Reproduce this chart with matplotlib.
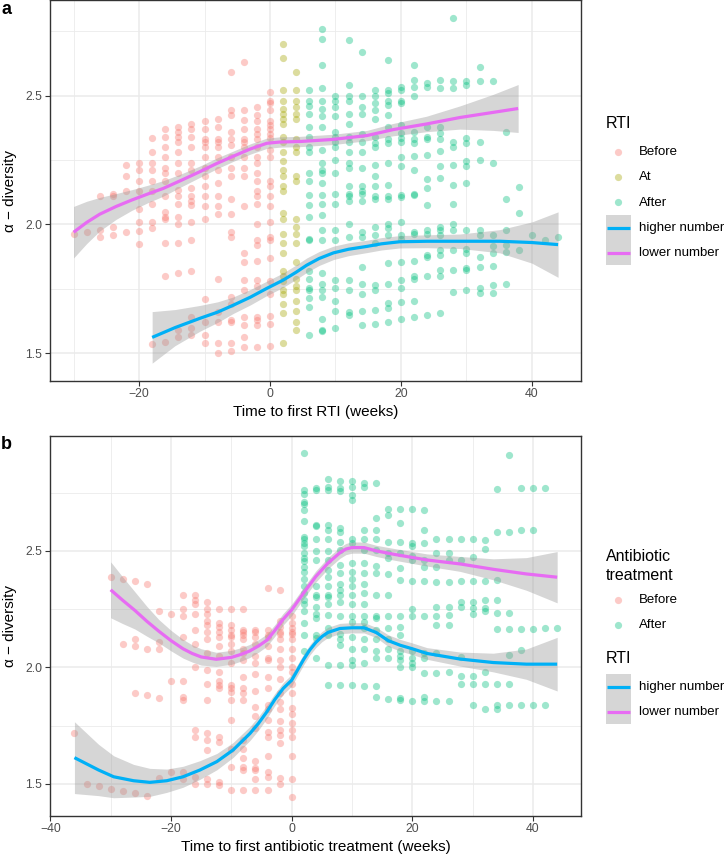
import numpy as np
import matplotlib
matplotlib.use("Agg")
import matplotlib.pyplot as plt
from matplotlib.patches import Rectangle

plt.rcParams["font.family"] = ["Liberation Sans", "DejaVu Sans"]

BEFORE = "#F8766D"
AT = "#A3A500"
AFTER = "#00BF7D"
HIGH = "#00B0F6"
LOW = "#E76BF3"

# ---- panel a: alpha-diversity by week relative to first RTI ----
a_before = {
    -30: [1.965],
    -28: [1.97],
    -26: [2.11, 1.98, 1.95],
    -24: [2.12, 2.11, 1.99, 1.96],
    -22: [2.23, 2.19, 2.13, 1.97],
    -20: [2.24, 2.21, 2.17, 2.13, 2.06, 2.01, 1.975, 1.925],
    -18: [2.335, 2.28, 2.24, 2.21, 2.17, 2.13, 2.08, 2.01, 1.985, 1.536],
    -16: [2.37, 2.34, 2.30, 2.26, 2.22, 2.20, 2.17, 2.11, 2.05, 2.03, 2.02, 1.93, 1.80, 1.545],
    -14: [2.38, 2.36, 2.34, 2.32, 2.28, 2.24, 2.20, 2.135, 2.11, 2.08, 2.03, 2.0, 1.93, 1.81, 1.59, 1.565],
    -12: [2.39, 2.37, 2.34, 2.30, 2.24, 2.21, 2.14, 2.11, 2.09, 2.075, 2.01, 1.94, 1.82, 1.64, 1.60, 1.57],
    -10: [2.40, 2.37, 2.33, 2.32, 2.30, 2.26, 2.22, 2.19, 2.15, 2.11, 2.07, 2.02, 1.71, 1.62, 1.57, 1.54],
    -8: [2.41, 2.38, 2.33, 2.32, 2.30, 2.26, 2.21, 2.16, 2.11, 2.07, 2.04, 1.79, 1.66, 1.62, 1.54, 1.50],
    -6: [2.59, 2.445, 2.425, 2.36, 2.33, 2.31, 2.26, 2.22, 2.19, 2.10, 2.04, 1.97, 1.95, 1.72, 1.69,
         1.63, 1.62, 1.54, 1.51],
    -4: [2.63, 2.445, 2.405, 2.37, 2.33, 2.32, 2.30, 2.26, 2.22, 2.19, 2.07, 1.89, 1.855, 1.785, 1.745,
         1.64, 1.61, 1.565, 1.525],
    -2: [2.455, 2.425, 2.40, 2.37, 2.35, 2.33, 2.30, 2.26, 2.24, 2.20, 2.17, 2.13, 2.11, 2.08, 2.0, 1.94,
         1.92, 1.86, 1.785, 1.76, 1.64, 1.63, 1.61, 1.525],
    0: [2.515, 2.48, 2.47, 2.445, 2.40, 2.385, 2.37, 2.35, 2.335, 2.29, 2.26, 2.17, 2.15, 2.11, 2.07, 2.01,
        1.95, 1.94, 1.87, 1.78, 1.73, 1.645, 1.615, 1.53],
}
a_at = {
    2: [2.70, 2.645, 2.52, 2.48, 2.45, 2.43, 2.41, 2.39, 2.34, 2.32, 2.28, 2.245, 2.21, 2.19, 2.15, 2.13,
        2.045, 2.02, 1.965, 1.93, 1.89, 1.82, 1.80, 1.78, 1.745, 1.73, 1.69, 1.655, 1.54],
    4: [2.59, 2.52, 2.48, 2.455, 2.43, 2.41, 2.33, 2.30, 2.28, 2.19, 2.17, 2.02, 1.99, 1.965, 1.93, 1.855,
        1.79, 1.76, 1.745, 1.705, 1.665, 1.62, 1.59],
}
a_after = {
    6: [2.52, 2.48, 2.46, 2.43, 2.38, 2.34, 2.30, 2.28, 2.20, 2.17, 2.115, 2.075, 2.03, 1.945, 1.94, 1.82,
        1.79, 1.755, 1.745, 1.715, 1.68, 1.57],
    8: [2.76, 2.72, 2.62, 2.53, 2.48, 2.45, 2.42, 2.38, 2.29, 2.24, 2.21, 2.20, 2.16, 2.115, 2.08, 2.035,
        1.98, 1.94, 1.81, 1.77, 1.745, 1.72, 1.635, 1.59, 1.585],
    10: [2.50, 2.48, 2.455, 2.42, 2.36, 2.34, 2.32, 2.30, 2.25, 2.20, 2.12, 2.08, 1.98, 1.94, 1.785, 1.755,
         1.705, 1.665, 1.60],
    12: [2.715, 2.54, 2.50, 2.48, 2.43, 2.39, 2.34, 2.32, 2.28, 2.24, 2.22, 2.15, 2.12, 2.11, 2.09, 2.0,
         1.95, 1.785, 1.745, 1.66, 1.65],
    14: [2.67, 2.50, 2.455, 2.43, 2.35, 2.32, 2.28, 2.22, 2.15, 2.13, 2.12, 2.09, 1.97, 1.95, 1.835, 1.77,
         1.73, 1.665, 1.61],
    16: [2.52, 2.50, 2.47, 2.445, 2.41, 2.34, 2.315, 2.30, 2.23, 2.19, 2.15, 2.11, 2.10, 1.99, 1.96, 1.93,
         1.765, 1.745, 1.67, 1.615],
    18: [2.64, 2.52, 2.51, 2.48, 2.465, 2.425, 2.38, 2.33, 2.315, 2.24, 2.155, 2.11, 2.10, 2.0, 1.985,
         1.96, 1.85, 1.77, 1.695, 1.675, 1.62],
    20: [2.535, 2.52, 2.48, 2.47, 2.385, 2.355, 2.335, 2.32, 2.26, 2.225, 2.115, 2.105, 2.01, 1.96, 1.945,
         1.855, 1.785, 1.755, 1.70, 1.635],
    22: [2.62, 2.56, 2.535, 2.50, 2.36, 2.33, 2.315, 2.265, 2.21, 2.12, 2.115, 1.97, 1.965, 1.86, 1.80,
         1.79, 1.705, 1.64],
    24: [2.55, 2.535, 2.38, 2.34, 2.33, 2.27, 2.175, 2.14, 2.075, 1.98, 1.965, 1.88, 1.875, 1.80, 1.65],
    26: [2.56, 2.53, 2.38, 2.355, 2.33, 2.285, 2.225, 2.18, 1.99, 1.98, 1.96, 1.90, 1.88, 1.825, 1.80, 1.655],
    28: [2.80, 2.555, 2.53, 2.32, 2.30, 2.23, 2.155, 2.08, 2.0, 1.98, 1.90, 1.825, 1.74],
    30: [2.555, 2.54, 2.335, 2.315, 2.245, 2.225, 2.16, 1.98, 1.905, 1.89, 1.83, 1.825, 1.745],
    32: [2.61, 2.555, 2.32, 2.25, 1.98, 1.96, 1.875, 1.835, 1.755, 1.735],
    34: [2.555, 2.24, 1.96, 1.915, 1.89, 1.84, 1.765, 1.735],
    36: [2.36, 2.10, 1.98, 1.92, 1.895, 1.77],
    38: [2.145, 2.045, 1.90],
    40: [1.96],
    42: [1.94],
    44: [1.95],
}

# loess fits (week, fit, half-width of band)
a_low_x = [-30, -28, -26, -23.5, -21.1, -18.7, -16.3, -13.5, -10.7, -8.2, -5.6, -3, -0.5, 1.5, 4.6,
           9.6, 14.8, 18.8, 23.9, 29, 34.1, 37.9]
a_low_y = [1.97, 2.008, 2.04, 2.07, 2.095, 2.118, 2.14, 2.172, 2.205, 2.236, 2.265, 2.293, 2.315, 2.32,
           2.322, 2.33, 2.345, 2.368, 2.39, 2.415, 2.435, 2.45]
a_low_se = [0.10, 0.082, 0.065, 0.05, 0.04, 0.034, 0.03, 0.025, 0.022, 0.021, 0.02, 0.02, 0.02, 0.02,
            0.02, 0.02, 0.02, 0.024, 0.03, 0.045, 0.07, 0.093]

a_high_x = [-18, -14.5, -10.7, -8, -5.6, -3, -0.5, 2.0, 4, 5.6, 7.5, 9.7, 12, 14.8, 17, 19.8, 24, 29,
            35.1, 40, 44]
a_high_y = [1.562, 1.6, 1.636, 1.66, 1.687, 1.718, 1.752, 1.784, 1.815, 1.842, 1.868, 1.89, 1.904,
            1.915, 1.925, 1.933, 1.935, 1.935, 1.935, 1.93, 1.922]
a_high_se = [0.10, 0.07, 0.05, 0.04, 0.032, 0.03, 0.028, 0.028, 0.028, 0.028, 0.027, 0.026, 0.025,
             0.024, 0.024, 0.024, 0.025, 0.028, 0.045, 0.08, 0.127]

# ---- panel b: alpha-diversity by week relative to first antibiotic treatment ----
b_before = {
    -36: [1.72],
    -34: [1.50],
    -32: [1.49],
    -30: [2.39, 1.48],
    -28: [2.38, 2.10, 1.47],
    -26: [2.37, 2.12, 2.09, 1.89, 1.46],
    -24: [2.36, 2.08, 1.88, 1.45],
    -22: [2.24, 2.11, 2.08, 1.87, 1.525],
    -20: [2.23, 1.94, 1.55],
    -18: [2.31, 2.25, 2.22, 2.13, 1.94, 1.875, 1.86, 1.55, 1.52],
    -16: [2.31, 2.29, 2.27, 2.23, 2.16, 2.10, 2.0, 1.73, 1.70, 1.53, 1.50],
    -14: [2.28, 2.25, 2.23, 2.20, 2.18, 2.15, 2.12, 2.06, 1.99, 1.93, 1.86, 1.72, 1.69, 1.645, 1.52, 1.50],
    -12: [2.25, 2.19, 2.175, 2.15, 2.13, 2.09, 2.05, 1.98, 1.94, 1.925, 1.91, 1.70, 1.68, 1.51, 1.495],
    -10: [2.25, 2.18, 2.16, 2.14, 2.13, 2.10, 2.07, 2.02, 1.925, 1.91, 1.895, 1.86, 1.775, 1.65, 1.575,
          1.475],
    -8: [2.25, 2.16, 2.15, 2.14, 2.12, 2.08, 2.06, 2.03, 1.96, 1.91, 1.89, 1.86, 1.69, 1.65, 1.61, 1.575,
         1.56, 1.475],
    -6: [2.16, 2.15, 2.13, 2.10, 2.05, 2.02, 1.97, 1.90, 1.83, 1.79, 1.74, 1.60, 1.57, 1.56, 1.52, 1.475],
    -4: [2.34, 2.16, 2.14, 2.13, 2.09, 2.04, 2.03, 1.96, 1.91, 1.84, 1.82, 1.775, 1.725, 1.70, 1.62, 1.55,
         1.53, 1.475],
    -2: [2.33, 2.20, 2.175, 2.15, 2.145, 2.12, 2.08, 2.03, 2.0, 1.95, 1.89, 1.85, 1.82, 1.77, 1.73, 1.71,
         1.675, 1.525, 1.50],
    0: [2.22, 2.19, 2.17, 2.15, 2.145, 2.12, 2.08, 2.04, 2.0, 1.98, 1.93, 1.89, 1.825, 1.80, 1.76, 1.73,
        1.70, 1.62, 1.52, 1.445],
}
b_after = {
    2: [2.92, 2.76, 2.745, 2.71, 2.70, 2.675, 2.63, 2.56, 2.55, 2.535, 2.52, 2.49, 2.47, 2.455, 2.43, 2.41,
        2.38, 2.35, 2.32, 2.29, 2.27, 2.24, 2.19, 2.14, 2.07],
    4: [2.77, 2.76, 2.61, 2.605, 2.55, 2.50, 2.46, 2.35, 2.31, 2.30, 2.26, 2.23, 2.21, 2.14, 2.125, 2.04],
    6: [2.81, 2.775, 2.76, 2.61, 2.59, 2.55, 2.50, 2.46, 2.42, 2.39, 2.35, 2.31, 2.30, 2.27, 2.225, 2.17,
        2.14, 2.01, 1.925],
    8: [2.80, 2.77, 2.755, 2.60, 2.58, 2.54, 2.505, 2.44, 2.405, 2.36, 2.33, 2.31, 2.28, 2.22, 2.145, 2.12,
        2.095, 2.01, 1.925],
    10: [2.80, 2.775, 2.74, 2.72, 2.55, 2.535, 2.45, 2.41, 2.38, 2.35, 2.31, 2.27, 2.22, 2.195, 2.13, 2.08,
         2.03, 2.01, 1.925],
    12: [2.79, 2.775, 2.59, 2.55, 2.505, 2.45, 2.405, 2.36, 2.32, 2.27, 2.22, 2.195, 2.17, 2.12, 2.08,
         2.02, 1.92],
    14: [2.79, 2.64, 2.59, 2.55, 2.505, 2.435, 2.405, 2.31, 2.22, 2.21, 2.16, 2.12, 2.07, 2.04, 1.92, 1.875],
    16: [2.68, 2.655, 2.54, 2.49, 2.47, 2.40, 2.31, 2.22, 2.17, 2.12, 2.08, 2.04, 1.865],
    18: [2.68, 2.62, 2.54, 2.49, 2.425, 2.375, 2.22, 2.175, 2.14, 2.07, 2.05, 2.03, 2.0, 1.87, 1.86],
    20: [2.68, 2.535, 2.52, 2.48, 2.46, 2.37, 2.25, 2.22, 2.07, 2.04, 2.02, 2.0, 1.855],
    22: [2.675, 2.59, 2.535, 2.46, 2.43, 2.37, 2.22, 2.06, 2.04, 1.975, 1.875, 1.855],
    24: [2.55, 2.49, 2.43, 2.365, 2.26, 2.22, 2.18, 2.06, 1.975, 1.855],
    26: [2.55, 2.49, 2.46, 2.365, 2.26, 2.225, 2.18, 1.98, 1.855],
    28: [2.55, 2.46, 2.37, 2.28, 2.26, 2.045, 1.965, 1.93],
    30: [2.55, 2.475, 2.37, 2.28, 2.255, 2.23, 1.965, 1.93, 1.84],
    32: [2.545, 2.51, 2.37, 2.29, 2.255, 2.24, 1.98, 1.93, 1.82],
    34: [2.765, 2.58, 2.375, 2.29, 2.235, 2.165, 1.93, 1.84, 1.82],
    36: [2.91, 2.58, 2.235, 2.165, 2.055, 1.93, 1.84],
    38: [2.77, 2.59, 2.165, 2.075, 1.84],
    40: [2.77, 2.59, 2.165, 1.84],
    42: [2.77, 2.17, 1.84],
    44: [2.17],
}

b_low_x = [-30, -28, -26, -24, -22, -20, -18, -16.5, -15, -12.5, -10, -8.5, -7, -5.5, -4.1, -2.8,
           -1.5, 0, 2, 4, 6, 8, 9, 10, 12, 14, 17, 22.4, 27.9, 33.4, 38.9, 44]
b_low_y = [2.333, 2.288, 2.245, 2.198, 2.155, 2.115, 2.08, 2.06, 2.045, 2.035, 2.043, 2.055, 2.07, 2.092,
           2.117, 2.158, 2.204, 2.247, 2.32, 2.39, 2.447, 2.492, 2.508, 2.514, 2.514, 2.50, 2.485,
           2.461, 2.444, 2.421, 2.401, 2.387]
b_low_se = [0.12, 0.1, 0.08, 0.064, 0.05, 0.044, 0.04, 0.037, 0.035, 0.03, 0.03, 0.029, 0.028, 0.027,
            0.026, 0.025, 0.025, 0.025, 0.024, 0.024, 0.024, 0.024, 0.024, 0.024, 0.024, 0.024, 0.025,
            0.026, 0.032, 0.045, 0.07, 0.11]

b_high_x = [-36, -32, -29.5, -26.2, -23.5, -20.7, -18, -15.2, -12.4, -9.7, -6.9, -5.5, -4.1, -2.8,
            -1.4, 0, 1, 2, 3, 4, 5, 6, 8, 10, 12, 14, 16, 18, 20, 22.4, 27.9, 33.4, 38.9, 44]
b_high_y = [1.613, 1.56, 1.531, 1.514, 1.507, 1.514, 1.531, 1.56, 1.596, 1.646, 1.717, 1.76, 1.81,
            1.862, 1.91, 1.945, 1.99, 2.035, 2.075, 2.107, 2.132, 2.15, 2.167, 2.17, 2.17, 2.15,
            2.115, 2.095, 2.08, 2.06, 2.036, 2.021, 2.014, 2.014]
b_high_se = [0.154, 0.11, 0.09, 0.07, 0.06, 0.05, 0.045, 0.04, 0.035, 0.032, 0.03, 0.029, 0.028, 0.026,
             0.025, 0.025, 0.024, 0.023, 0.022, 0.022, 0.022, 0.022, 0.022, 0.022, 0.022, 0.022,
             0.025, 0.025, 0.025, 0.025, 0.03, 0.04, 0.065, 0.115]


def flat(d):
    xs, ys = [], []
    for w, vals in d.items():
        xs += [w] * len(vals)
        ys += vals
    return xs, ys


def smooth(ax, x, y, se, color):
    x = np.array(x)
    y = np.array(y)
    se = np.array(se)
    ax.fill_between(x, y - se, y + se, color="#999999", alpha=0.4, lw=0, zorder=3)
    ax.plot(x, y, color=color, lw=2.3, zorder=4, solid_capstyle="butt", solid_joinstyle="round")


def style(ax, xlim, ylim, xmaj, xmin):
    ax.set_xlim(xlim)
    ax.set_ylim(ylim)
    ax.set_xticks(xmaj)
    ax.set_xticks(xmin, minor=True)
    ax.set_yticks([1.5, 2.0, 2.5])
    ax.set_yticklabels(["1.5", "2.0", "2.5"])
    ax.set_yticks([1.75, 2.25, 2.75], minor=True)
    ax.grid(which="major", color="#EBEBEB", lw=1.1)
    ax.grid(which="minor", color="#EBEBEB", lw=0.6)
    ax.set_axisbelow(True)
    ax.tick_params(which="minor", length=0)
    ax.tick_params(which="major", length=3.5, width=0.8, color="#333333",
                   labelsize=8.8, labelcolor="#4D4D4D", pad=2)
    for s in ax.spines.values():
        s.set_color("#333333")
        s.set_linewidth(1.0)
    ax.set_ylabel("α − diversity", fontsize=11, labelpad=6)


fig = plt.figure(figsize=(7.24, 8.55), dpi=100)
W, H = 724, 855

ax_a = fig.add_axes([50 / W, 1 - 380.7 / H, 531 / W, 380.2 / H])
ax_b = fig.add_axes([50 / W, 1 - 815.7 / H, 531 / W, 380 / H])

PT = 27
PA = 0.38

for d, col in [(a_before, BEFORE), (a_at, AT), (a_after, AFTER)]:
    xs, ys = flat(d)
    ax_a.scatter(xs, ys, s=PT, c=col, alpha=PA, linewidths=0, zorder=2)
smooth(ax_a, a_high_x, a_high_y, a_high_se, HIGH)
smooth(ax_a, a_low_x, a_low_y, a_low_se, LOW)
style(ax_a, (-33.6, 47.5), (1.394, 2.869), [-20, 0, 20, 40], [-30, -10, 10, 30])
ax_a.set_xlabel("Time to first RTI (weeks)", fontsize=11, labelpad=3)

for d, col in [(b_before, BEFORE), (b_after, AFTER)]:
    xs, ys = flat(d)
    ax_b.scatter(xs, ys, s=PT, c=col, alpha=PA, linewidths=0, zorder=2)
smooth(ax_b, b_high_x, b_high_y, b_high_se, HIGH)
smooth(ax_b, b_low_x, b_low_y, b_low_se, LOW)
style(ax_b, (-40.05, 47.95), (1.364, 2.994), [-40, -20, 0, 20, 40], [-30, -10, 10, 30])
ax_b.set_xlabel("Time to first antibiotic treatment (weeks)", fontsize=11, labelpad=3)

# legends drawn in pixel coordinates
lax = fig.add_axes([0, 0, 1, 1])
lax.set_xlim(0, W)
lax.set_ylim(H, 0)
lax.axis("off")


def point_keys(labels, colors, ys):
    for lab, col, y in zip(labels, colors, ys):
        lax.scatter(618, y, s=PT, c=col, alpha=PA, linewidths=0)
        lax.text(639, y, lab, fontsize=9.5, va="center", ha="left")


def line_keys(ys):
    lax.add_patch(Rectangle((606, ys[0] - 12.5), 25, 50, color="#999999", alpha=0.4, lw=0))
    for lab, col, y in zip(["higher number", "lower number"], [HIGH, LOW], ys):
        lax.plot([607, 630], [y, y], color=col, lw=2.3, solid_capstyle="butt")
        lax.text(639, y, lab, fontsize=9.5, va="center", ha="left")


lax.text(606, 123, "RTI", fontsize=11.5, va="center", ha="left")
point_keys(["Before", "At", "After"], [BEFORE, AT, AFTER], [152, 177, 202.5])
line_keys([227.7, 253])

lax.text(606, 556, "Antibiotic", fontsize=11.5, va="center", ha="left")
lax.text(606, 575, "treatment", fontsize=11.5, va="center", ha="left")
point_keys(["Before", "After"], [BEFORE, AFTER], [600, 625])
lax.text(606, 658, "RTI", fontsize=11.5, va="center", ha="left")
line_keys([686.7, 712])

lax.text(1, 10, "a", fontsize=13, fontweight="bold", va="center", ha="left")
lax.text(1, 444, "b", fontsize=13, fontweight="bold", va="center", ha="left")

fig.savefig("out.png", dpi=100)
